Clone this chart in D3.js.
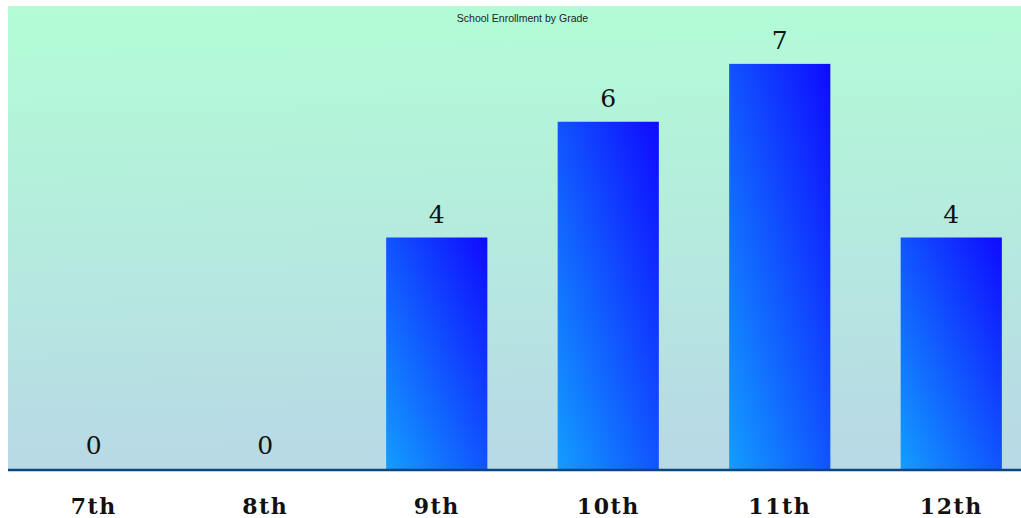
<!DOCTYPE html>
<html><head><meta charset="utf-8">
<script src="https://cdn.jsdelivr.net/npm/d3@7"></script>
<style>html,body{margin:0;padding:0;background:#fff;overflow:hidden}</style>
</head><body>
<svg id="c" width="1021" height="518"></svg>
<script>
const categories = ["7th","8th","9th","10th","11th","12th"];
const values = [0,0,4,6,7,4];
const title = "School Enrollment by Grade";

(function(){
const svg = d3.select("#c");
const pLeft = 8, pRight = 1037, pTop = 6, base = 469;
const x = d3.scaleBand().domain(categories).range([pLeft, pRight]).paddingInner(0.41).paddingOuter(0.205);
const y = d3.scaleLinear().domain([0, 8]).range([base, pTop]);

const defs = svg.append("defs");
const bg = defs.append("linearGradient").attr("id","bg").attr("x1",0).attr("y1",0).attr("x2",0.05).attr("y2",1);
bg.append("stop").attr("offset","0%").attr("stop-color","#b3fcd6");
bg.append("stop").attr("offset","15%").attr("stop-color","#b3f8d8");
bg.append("stop").attr("offset","100%").attr("stop-color","#b8d9e6");
const bar = defs.append("linearGradient").attr("id","bar").attr("x1",0).attr("y1",1).attr("x2",1).attr("y2",0);
bar.append("stop").attr("offset","0%").attr("stop-color","#139dff");
bar.append("stop").attr("offset","100%").attr("stop-color","#0f0aff");

svg.append("rect").attr("x",pLeft).attr("y",pTop).attr("width",pRight-pLeft).attr("height",base-pTop).attr("fill","url(#bg)");

svg.selectAll("rect.bar").data(values).enter().append("rect").attr("class","bar")
  .attr("x",(d,i)=>x(categories[i])).attr("width",x.bandwidth())
  .attr("y",d=>y(d)).attr("height",d=>base-y(d)).attr("fill","url(#bar)");

svg.selectAll("text.val").data(values).enter().append("text").attr("class","val")
  .attr("x",(d,i)=>x(categories[i])+x.bandwidth()/2).attr("y",d=>y(d)-15)
  .attr("text-anchor","middle").attr("font-family","DejaVu Serif").attr("font-size",25)
  .attr("fill","#111").text(d=>d);

const axis = svg.append("g").attr("transform",`translate(0,${base})`)
  .call(d3.axisBottom(x).tickSize(0).tickPadding(0));
axis.select(".domain").attr("stroke","#0d467c").attr("stroke-width",2.5).attr("d",`M${pLeft},1H${pRight}`);
axis.selectAll("text").attr("font-family","DejaVu Serif").attr("font-weight","bold")
  .attr("font-size",22).attr("letter-spacing","1.5px").attr("fill","#111").attr("dy",0).attr("y",45);

svg.append("text").attr("x",(pLeft+pRight)/2).attr("y",22).attr("text-anchor","middle")
  .attr("font-family","Liberation Sans").attr("font-size",10.5).attr("fill","#222").text(title);
})();
</script>
</body></html>
